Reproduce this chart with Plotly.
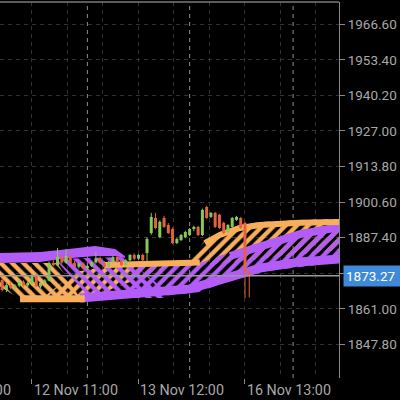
import plotly.graph_objects as go

# XAUUSD H1, bar index 0 = 11 Nov 10:00
bars = list(range(18, 77))
opens = [1871.7, 1868.0, 1869.8, 1868.8, 1869.6, 1871.0, 1869.6, 1870.6, 1873.5, 1869.3,
         1870.6, 1871.5, 1878.0, 1877.2, 1880.3, 1878.2, 1880.6, 1878.0, 1876.6, 1877.8,
         1876.1, 1876.9, 1878.2, 1879.6, 1878.0, 1876.6, 1878.4, 1880.2, 1878.4, 1877.2,
         1879.0, 1881.0, 1879.6, 1881.0, 1881.7, 1889.1, 1894.7, 1887.6, 1894.7, 1892.1,
         1890.6, 1885.4, 1886.5, 1887.6, 1888.4, 1890.6, 1891.4, 1888.4, 1898.8, 1895.1,
         1896.6, 1895.9, 1892.9, 1889.5, 1891.4, 1894.0, 1894.7, 1892.9, 1874.6]
highs = [1872.4, 1870.5, 1871.0, 1870.2, 1871.5, 1871.6, 1871.2, 1874.0, 1873.9, 1871.0,
         1872.0, 1878.6, 1879.5, 1883.6, 1881.0, 1883.2, 1881.2, 1878.8, 1878.2, 1878.2,
         1877.4, 1878.6, 1882.1, 1880.4, 1878.6, 1878.8, 1880.6, 1880.8, 1878.9, 1879.4,
         1881.3, 1881.6, 1881.4, 1881.5, 1887.5, 1896.6, 1896.6, 1893.8, 1895.5, 1892.8,
         1891.2, 1887.3, 1888.8, 1890.0, 1891.0, 1891.8, 1891.8, 1898.2, 1899.2, 1896.9,
         1897.0, 1896.3, 1893.3, 1892.5, 1895.1, 1895.5, 1895.1, 1893.3, 1875.0]
lows = [1867.5, 1867.2, 1868.3, 1867.8, 1869.0, 1869.2, 1869.0, 1870.2, 1869.0, 1868.6,
        1870.0, 1871.2, 1876.8, 1876.9, 1877.5, 1877.8, 1877.6, 1876.2, 1876.0, 1875.6,
        1875.4, 1876.5, 1877.8, 1877.6, 1876.2, 1876.2, 1878.0, 1878.0, 1876.8, 1876.9,
        1878.6, 1879.0, 1879.2, 1878.6, 1878.4, 1888.5, 1890.5, 1887.2, 1891.0, 1888.8,
        1885.0, 1885.0, 1886.1, 1887.2, 1888.0, 1889.8, 1888.0, 1888.0, 1894.4, 1894.7,
        1891.0, 1890.6, 1888.8, 1889.1, 1891.0, 1893.6, 1890.6, 1865.0, 1865.2]
closes = [1868.0, 1869.8, 1868.8, 1869.6, 1871.0, 1869.6, 1870.6, 1873.5, 1869.3, 1870.6,
          1871.5, 1878.0, 1877.2, 1880.3, 1878.2, 1880.6, 1878.0, 1876.6, 1877.8, 1876.1,
          1876.9, 1878.2, 1879.6, 1878.0, 1876.6, 1878.4, 1880.2, 1878.4, 1877.2, 1879.0,
          1881.0, 1879.6, 1881.0, 1879.0, 1886.9, 1895.1, 1891.0, 1893.3, 1891.4, 1889.1,
          1885.4, 1886.9, 1888.4, 1889.5, 1890.6, 1891.4, 1888.4, 1897.7, 1894.7, 1896.6,
          1891.4, 1891.0, 1889.1, 1892.1, 1894.7, 1895.1, 1891.0, 1874.6, 1873.27]
last_price = 1873.27

# cloud ribbons (bar index, price)
# orange group
oa_lo_k = [17.0, 22.6, 36.3]
oa_lo_p = [1869.8, 1864.3, 1864.3]
oa_hi_k = [17.0, 30.9, 36.3]
oa_hi_p = [1878.0, 1878.0, 1865.0]
oc_lo_k = [26.9, 37.4, 56.2]
oc_lo_p = [1864.3, 1864.3, 1876.1]
oc_hi_k = [26.9, 35.1, 43.3, 56.2]
oc_hi_p = [1864.3, 1874.7, 1876.9, 1877.3]
oe_lo_k = [62.1, 71.5, 80.9, 97.5]
oe_lo_p = [1876.9, 1878.0, 1879.9, 1882.8]
oe_hi_k = [62.1, 65.6, 69.1, 73.8, 78.5, 87.9, 97.5]
oe_hi_p = [1878.4, 1886.5, 1889.5, 1892.1, 1893.2, 1894.0, 1894.3]
ob_k = [22.2, 37.4]
ob_p = [1864.7, 1864.7]
od_k = [42.1, 56.2, 64.4]
od_p = [1877.3, 1877.6, 1878.2]
of_k = [65.6, 69.1, 73.8, 78.5, 87.9, 97.5]
of_p = [1885.4, 1888.4, 1891.0, 1892.1, 1892.9, 1893.2]

# purple group
pa_k = [17.0, 26.9, 31.6, 39.8, 44.5, 46.8]
pa_lo_p = [1878.0, 1878.4, 1879.5, 1880.6, 1880.6, 1879.9]
pa_hi_p = [1881.7, 1882.1, 1882.8, 1884.3, 1883.2, 1880.6]
pb_hi_k = [30.4, 46.8, 56.2]
pb_hi_p = [1879.5, 1880.2, 1868.0]
pb_lo_k = [30.4, 38.6, 56.2]
pb_lo_p = [1879.5, 1865.0, 1865.0]
pd_hi_k = [48.0, 64.4, 71.5, 78.5, 87.9, 97.5]
pd_hi_p = [1876.9, 1878.0, 1882.1, 1885.4, 1890.2, 1892.9]
pd_lo_k = [48.0, 56.2, 64.4, 71.5, 78.5, 87.9, 97.5]
pd_lo_p = [1865.0, 1865.8, 1867.2, 1871.7, 1874.7, 1876.5, 1878.4]
pbot_k = [36.3, 45.7, 56.2, 62.1, 71.5, 78.5, 87.9, 97.5]
pbot_p = [1865.0, 1866.1, 1867.2, 1868.4, 1872.8, 1876.1, 1878.4, 1879.5]
ptop_k = [71.5, 78.5, 87.9, 97.5]
ptop_p = [1880.6, 1883.9, 1888.7, 1891.4]

x_tick_pos = [0, 25, 50, 75]
x_tick_text = ['11 Nov 10:00', '12 Nov 11:00', '13 Nov 12:00', '16 Nov 13:00']
day_starts = [38, 62, 86.3]

ORANGE = '#F9AE5B'
PURPLE = '#B35CF7'
UP = '#86C955'
DOWN = '#E2643F'
TXT = '#A8A8A8'
FONT = 'Roboto'

xr = [17.49, 97.07]
yr = [1835.31, 1974.88]

fig = go.Figure()


def hatch(xl, yl, xu, yu, color, shape):
    fig.add_trace(go.Scatter(x=xl, y=yl, mode='lines', line=dict(width=0), hoverinfo='skip'))
    fig.add_trace(go.Scatter(x=xu, y=yu, mode='lines', line=dict(width=0), fill='tonexty',
                             fillcolor='rgba(0,0,0,0)', hoverinfo='skip',
                             fillpattern=dict(shape=shape, fgcolor=color, bgcolor='rgba(0,0,0,0)',
                                              fgopacity=1, size=8, solidity=0.55)))


def band(x, y, color, w):
    fig.add_trace(go.Scatter(x=x, y=y, mode='lines', line=dict(color=color, width=w), hoverinfo='skip'))


hatch(oa_lo_k, oa_lo_p, oa_hi_k, oa_hi_p, ORANGE, '\\')
hatch(oc_lo_k, oc_lo_p, oc_hi_k, oc_hi_p, ORANGE, '/')
hatch(oe_lo_k, oe_lo_p, oe_hi_k, oe_hi_p, ORANGE, '/')
hatch(pb_lo_k, pb_lo_p, pb_hi_k, pb_hi_p, PURPLE, '\\')
hatch(pd_lo_k, pd_lo_p, pd_hi_k, pd_hi_p, PURPLE, '/')

# solid purple band on the left
fig.add_trace(go.Scatter(x=pa_k, y=pa_lo_p, mode='lines', line=dict(width=0), hoverinfo='skip'))
fig.add_trace(go.Scatter(x=pa_k, y=pa_hi_p, mode='lines', line=dict(width=0), fill='tonexty',
                         fillcolor=PURPLE, hoverinfo='skip'))
band(pbot_k, pbot_p, PURPLE, 9)
band(ptop_k, ptop_p, PURPLE, 8)
band(ob_k, ob_p, ORANGE, 7)
band(od_k, od_p, ORANGE, 6)
band(of_k, of_p, ORANGE, 6)

# candles on top
for col, pick in ((UP, lambda o, c: c >= o), (DOWN, lambda o, c: c < o)):
    wx, wy, bx, by = [], [], [], []
    for k, o, h, l, c in zip(bars, opens, highs, lows, closes):
        if pick(o, c):
            wx += [k, k, None]
            wy += [l, h, None]
            bx += [k, k, None]
            by += [o, c, None]
    fig.add_trace(go.Scatter(x=wx, y=wy, mode='lines', line=dict(color=col, width=1), hoverinfo='skip'))
    fig.add_trace(go.Scatter(x=bx, y=by, mode='lines', line=dict(color=col, width=3), hoverinfo='skip'))

for d in day_starts:
    fig.add_shape(type='line', x0=d, x1=d, y0=0, y1=1, yref='paper', layer='below',
                  line=dict(color='#8C8C8C', width=1, dash='4px,4px'))
fig.add_shape(type='line', x0=0, x1=1, xref='paper', y0=last_price, y1=last_price,
              line=dict(color='#9A9A9A', width=1.5))
fig.add_shape(type='line', x0=0, x1=1, xref='paper', y0=1, y1=1, yref='paper',
              line=dict(color='#7A7A7A', width=1.5))

for pos, txt in zip(x_tick_pos, x_tick_text):
    fig.add_annotation(x=(pos - xr[0]) / (xr[1] - xr[0]), xref='paper', y=0, yref='paper',
                       xanchor='left', yanchor='top', yshift=-2, text=txt, showarrow=False,
                       font=dict(family=FONT, size=14.3, color=TXT))

fig.add_annotation(x=1, xref='paper', y=last_price, yref='y', xanchor='left', xshift=4,
                   text=f'{last_price:.2f}', showarrow=False, bgcolor='#3F8AD8', borderpad=2,
                   width=54, align='left', font=dict(family=FONT, size=13.5, color='white'))

fig.update_layout(
    width=400, height=400,
    margin=dict(l=0, r=61, t=2, b=22, autoexpand=False),
    paper_bgcolor='black', plot_bgcolor='black',
    showlegend=False, hovermode=False,
    xaxis=dict(range=xr, tickmode='array', tickvals=x_tick_pos, ticks='outside', ticklen=5,
               tickcolor='#888', showticklabels=False, showgrid=True, gridcolor='#333',
               griddash='4px,4px', zeroline=False, showline=False, automargin=False,
               minor=dict(tickmode='array', tickvals=[i * 25 / 3 for i in range(13)],
                          showgrid=True, gridcolor='#333', griddash='4px,4px', ticks='')),
    yaxis=dict(range=yr, side='right', tick0=1847.8, dtick=13.2, tickformat='.2f',
               ticks='outside', ticklen=5, tickcolor='#888', showline=True, linecolor='#888',
               gridcolor='#333', griddash='4px,4px', zeroline=False, automargin=False,
               tickfont=dict(family=FONT, size=13.5, color=TXT)),
)

# page body has a default 8px margin; drop it so the chart sits at the corner
fig.write_html('out.html', config={'displayModeBar': False},
               post_script="document.body.style.margin='0';document.body.style.background='black';")
